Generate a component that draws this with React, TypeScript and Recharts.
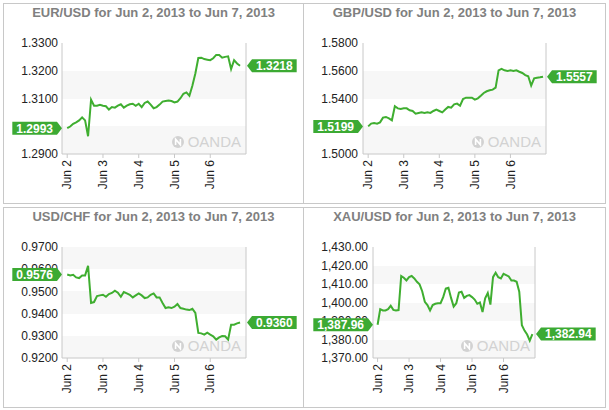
import {
  CartesianGrid,
  Line,
  LineChart,
  XAxis,
  YAxis
} from "recharts";

// hours since Jun 2 00:00, one reading every 2 hours
const hours = [
  0, 2, 4, 6, 8, 10, 12, 14, 16, 18, 20, 22, 24, 26, 28, 30, 32, 34, 36, 38,
  40, 42, 44, 46, 48, 50, 52, 54, 56, 58, 60, 62, 64, 66, 68, 70, 72, 74, 76, 78,
  80, 82, 84, 86, 88, 90, 92, 94, 96, 98, 100, 102, 104, 106, 108, 110, 112, 114, 116, 118
];
const dayTicks = [0, 24, 48, 72, 96];
const dayLabels = ["Jun 2", "Jun 3", "Jun 4", "Jun 5", "Jun 6"];

const eurUsd = [
  1.2993, 1.2999, 1.3009, 1.3014, 1.3021, 1.3032, 1.3021, 1.2964, 1.3096, 1.3074,
  1.3074, 1.3077, 1.3074, 1.3072, 1.306, 1.3069, 1.3067, 1.3074, 1.3079, 1.3067,
  1.3074, 1.3079, 1.3081, 1.3074, 1.3081, 1.3069, 1.3084, 1.3089, 1.3078, 1.3065,
  1.3069, 1.3078, 1.3089, 1.3091, 1.3093, 1.3091, 1.3086, 1.3089, 1.3101, 1.3117,
  1.3122, 1.311, 1.3146, 1.319, 1.3246, 1.3247, 1.3242, 1.324, 1.3238, 1.3245,
  1.3257, 1.3257, 1.3247, 1.325, 1.3252, 1.3206, 1.3238, 1.3226, 1.3218
];
const gbpUsd = [
  1.5199, 1.5219, 1.5223, 1.5219, 1.5228, 1.5262, 1.5267, 1.5257, 1.5243, 1.5344,
  1.5329, 1.5324, 1.5329, 1.5329, 1.5315, 1.531, 1.5291, 1.5296, 1.53, 1.5296,
  1.53, 1.5296, 1.531, 1.532, 1.531, 1.53, 1.532, 1.5339, 1.5334, 1.5358,
  1.5363, 1.5348, 1.5396, 1.5406, 1.5406, 1.5406, 1.5392, 1.5401, 1.542, 1.544,
  1.5452, 1.5459, 1.5464, 1.5478, 1.5603, 1.5613, 1.5603, 1.5598, 1.5603, 1.5598,
  1.5603, 1.5593, 1.5584, 1.5569, 1.556, 1.5493, 1.5545, 1.555, 1.5553, 1.5557
];
const usdChf = [
  0.9576, 0.9572, 0.9575, 0.9563, 0.956, 0.9572, 0.9572, 0.9615, 0.9448, 0.9452,
  0.9479, 0.9482, 0.9485, 0.9476, 0.9488, 0.9493, 0.9503, 0.9494, 0.9476, 0.9497,
  0.9491, 0.9485, 0.9473, 0.9482, 0.9491, 0.9482, 0.947, 0.9473, 0.9485, 0.9491,
  0.9473, 0.9473, 0.9448, 0.9425, 0.9428, 0.9425, 0.9431, 0.9443, 0.9425, 0.9422,
  0.9418, 0.9416, 0.9422, 0.9403, 0.9313, 0.9311, 0.9305, 0.9314, 0.9305, 0.9298,
  0.9283, 0.9293, 0.9299, 0.9298, 0.9283, 0.935, 0.935, 0.9356, 0.936
];
const xauUsd = [
  1387.96, 1396.4, 1395.7, 1395.7, 1396.4, 1398.2, 1396.0, 1395.7, 1395.9, 1414.3,
  1413.4, 1411.9, 1413.7, 1414.3, 1413.0, 1411.2, 1409.8, 1406.1, 1400.4, 1398.6,
  1395.7, 1398.6, 1399.3, 1399.6, 1399.6, 1402.9, 1407.6, 1408.0, 1402.5, 1397.8,
  1399.6, 1405.4, 1405.8, 1402.5, 1403.6, 1404.0, 1402.9, 1401.6, 1399.3, 1400.0,
  1394.9, 1402.2, 1405.1, 1398.9, 1413.7, 1416.1, 1413.7, 1413.0, 1415.5, 1414.8,
  1414.1, 1411.9, 1411.9, 1411.2, 1405.8, 1387.7, 1384.8, 1382.7, 1379.4, 1382.94
];

const eurTicks = [1.29, 1.3, 1.31, 1.32, 1.33];
const gbpTicks = [1.5, 1.52, 1.54, 1.56, 1.58];
const chfTicks = [0.92, 0.93, 0.94, 0.95, 0.96, 0.97];
const xauTicks = [1370, 1380, 1390, 1400, 1410, 1420, 1430];

const rows = hours.map((h, i) => ({
  h,
  eur: eurUsd[i],
  gbp: gbpUsd[i],
  chf: usdChf[i],
  xau: xauUsd[i]
}));

const FONT = '"Liberation Sans", Arial, Helvetica, sans-serif';
const GREEN = "#3fae30";
const BADGE = "#3caa33";
const BORDER = "#c8c8c8";
const STRIPE = "#f7f7f7";
const X_DOMAIN = [-3.5, 120];

const fix4 = (v: number) => v.toFixed(4);
const money = (v: number) =>
  v.toLocaleString("en-US", { minimumFractionDigits: 2, maximumFractionDigits: 2 });

function textWidth(s: string) {
  let w = 0;
  for (const ch of s) w += /[0-9]/.test(ch) ? 6.67 : 3.34;
  return w;
}

// green value tag: arrow tip sits on the plot edge, at the point's height
function badgeShape(tip: number, y: number, text: string, side: "left" | "right") {
  const half = 6.5;
  const arrow = 5;
  const w = textWidth(text) + 8;
  const dir = side === "left" ? -1 : 1;
  const base = tip + dir * arrow;
  const far = base + dir * w;
  const pts = [
    [tip, y],
    [base, y - half],
    [far, y - half],
    [far, y + half],
    [base, y + half]
  ]
    .map((p) => p.join(","))
    .join(" ");
  return (
    <g>
      <polygon points={pts} fill={BADGE} />
      <text
        x={(base + far) / 2}
        y={y}
        dy="0.36em"
        textAnchor="middle"
        fill="#fff"
        fontSize={12}
        fontWeight="bold"
        fontFamily={FONT}
      >
        {text}
      </text>
    </g>
  );
}

function DayTick(props: any) {
  const { x, y, payload } = props;
  const idx = dayTicks.indexOf(payload.value);
  return (
    <text
      x={x}
      y={y}
      transform={`rotate(-90 ${x} ${y})`}
      textAnchor="end"
      dy="0.35em"
      fontSize={12}
      fill="#222"
    >
      {dayLabels[idx]}
    </text>
  );
}

function OandaMark({ right, bottom }: { right: number; bottom: number }) {
  return (
    <div
      style={{
        position: "absolute",
        left: right - 85,
        width: 80,
        top: bottom - 19,
        height: 14,
        display: "flex",
        justifyContent: "flex-end",
        alignItems: "center",
        gap: 4,
        color: "#d2d2d2",
        fontSize: 15,
        lineHeight: "14px",
        fontFamily: FONT
      }}
    >
      <svg width={12} height={12}>
        <circle cx={6} cy={6} r={6} fill="#d2d2d2" />
        <path d="M3.6 9 V3.2 L8.4 8.8 V3" stroke="#fff" strokeWidth={1.6} fill="none" />
      </svg>
      <span>OANDA</span>
    </div>
  );
}

interface PanelProps {
  title: string;
  dataKey: string;
  values: number[];
  ticks: number[];
  fmt: (v: number) => string;
  left: number;
  top: number;
  width: number;
  leftW: number;
  rightW: number;
  leftGap: number;
  rightGap: number;
}

function Panel({
  title,
  dataKey,
  values,
  ticks,
  fmt,
  left,
  top,
  width,
  leftW,
  rightW,
  leftGap,
  rightGap
}: PanelProps) {
  const bands = ticks.length - 1;
  const fills = bands % 2 === 0 ? ["#ffffff", STRIPE] : [STRIPE, "#ffffff"];
  const domain = [ticks[0], ticks[ticks.length - 1]];
  const lastIdx = values.length - 1;
  const axisTick = { fontSize: 12, fill: "#222" };

  const renderBadge = (p: any) => {
    const idx = p.index;
    if (idx !== 0 && idx !== lastIdx) return null;
    const y = p.viewBox && p.viewBox.y != null ? p.viewBox.y : p.y;
    if (y == null || isNaN(y)) return null;
    const text = fmt(values[idx]);
    return idx === 0
      ? badgeShape(leftW, y, text, "left")
      : badgeShape(width - rightW + 1, y, text, "right");
  };

  return (
    <>
      <div
        style={{
          position: "absolute",
          left,
          top,
          width: width + 1,
          height: 201,
          boxSizing: "border-box",
          border: `1px solid ${BORDER}`
        }}
      />
      <div
        style={{
          position: "absolute",
          left,
          top: top + 2,
          width: width + 1,
          textAlign: "center",
          fontFamily: FONT,
          fontSize: 13,
          lineHeight: "15px",
          fontWeight: "bold",
          color: "#808080"
        }}
      >
        {title}
      </div>
      <div style={{ position: "absolute", left, top, fontFamily: FONT }}>
        <LineChart
          width={width}
          height={200}
          data={rows}
          margin={{ top: 40, right: 0, bottom: 0, left: 0 }}
        >
          <CartesianGrid
            vertical={false}
            stroke="none"
            horizontalFill={fills}
            fillOpacity={1}
          />
          <XAxis
            dataKey="h"
            type="number"
            domain={X_DOMAIN}
            ticks={dayTicks}
            interval={0}
            height={49}
            tickSize={4}
            tickMargin={2}
            tickLine={{ stroke: BORDER }}
            axisLine={{ stroke: BORDER }}
            tick={(p: any) => <DayTick {...p} />}
            allowDataOverflow
          />
          <XAxis
            xAxisId="top"
            orientation="top"
            dataKey="h"
            type="number"
            domain={X_DOMAIN}
            height={0}
            tick={false}
            tickLine={false}
            axisLine={{ stroke: BORDER }}
            allowDataOverflow
          />
          <YAxis
            domain={domain}
            ticks={ticks}
            interval={0}
            width={leftW}
            tickSize={0}
            tickMargin={leftGap}
            tickLine={false}
            axisLine={{ stroke: BORDER }}
            tickFormatter={fmt}
            tick={axisTick}
          />
          <YAxis
            yAxisId="r"
            orientation="right"
            domain={domain}
            ticks={ticks}
            interval={0}
            width={rightW}
            tickSize={0}
            tickMargin={rightGap}
            tickLine={false}
            axisLine={{ stroke: BORDER }}
            tickFormatter={fmt}
            tick={axisTick}
          />
          <Line
            type="linear"
            dataKey={dataKey}
            stroke={GREEN}
            strokeWidth={2}
            dot={false}
            activeDot={false}
            isAnimationActive={false}
          />
        </LineChart>
      </div>
      {/* second chart on top, same plot box, only carries the value tags */}
      <div style={{ position: "absolute", left, top, fontFamily: FONT }}>
        <LineChart
          width={width}
          height={200}
          data={rows}
          margin={{ top: 40, right: rightW, bottom: 49, left: leftW }}
        >
          <XAxis dataKey="h" type="number" domain={X_DOMAIN} hide />
          <YAxis domain={domain} hide />
          <Line
            type="linear"
            dataKey={dataKey}
            stroke="none"
            dot={false}
            activeDot={false}
            isAnimationActive={false}
            label={renderBadge}
          />
        </LineChart>
      </div>
      <OandaMark right={left + width - rightW} bottom={top + 151} />
    </>
  );
}

export default function App() {
  return (
    <div
      style={{
        position: "absolute",
        left: 0,
        top: 0,
        width: 609,
        height: 410,
        background: "#fff"
      }}
    >
      <Panel
        title="EUR/USD for Jun 2, 2013 to Jun 7, 2013"
        dataKey="eur"
        values={eurUsd}
        ticks={eurTicks}
        fmt={fix4}
        left={3}
        top={3}
        width={300}
        leftW={59}
        rightW={57}
        leftGap={4}
        rightGap={6}
      />
      <Panel
        title="GBP/USD for Jun 2, 2013 to Jun 7, 2013"
        dataKey="gbp"
        values={gbpUsd}
        ticks={gbpTicks}
        fmt={fix4}
        left={303}
        top={3}
        width={302}
        leftW={60}
        rightW={59}
        leftGap={5}
        rightGap={5}
      />
      <Panel
        title="USD/CHF for Jun 2, 2013 to Jun 7, 2013"
        dataKey="chf"
        values={usdChf}
        ticks={chfTicks}
        fmt={fix4}
        left={3}
        top={207}
        width={300}
        leftW={59}
        rightW={57}
        leftGap={4}
        rightGap={6}
      />
      <Panel
        title="XAU/USD for Jun 2, 2013 to Jun 7, 2013"
        dataKey="xau"
        values={xauUsd}
        ticks={xauTicks}
        fmt={money}
        left={303}
        top={207}
        width={302}
        leftW={70}
        rightW={70}
        leftGap={5}
        rightGap={5}
      />
    </div>
  );
}
